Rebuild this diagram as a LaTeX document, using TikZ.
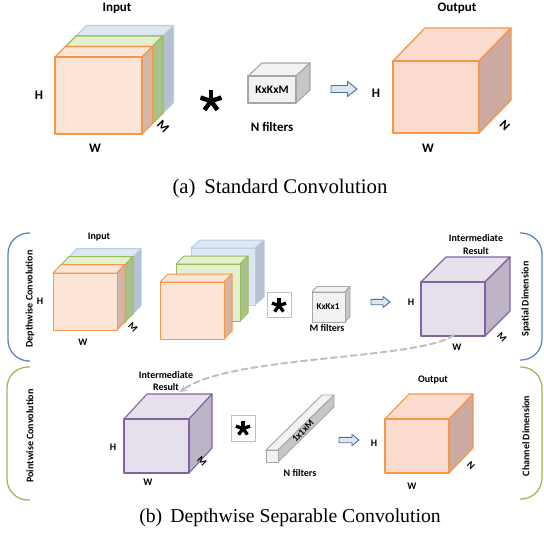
\documentclass[tikz,border=0pt]{standalone}
\usepackage{fontspec}
\setmainfont{Liberation Serif}
\newfontfamily\lab{Carlito}
\usetikzlibrary{arrows.meta}
\definecolor{orB}{HTML}{F79646}
\definecolor{orF}{HTML}{FCE4D6}
\definecolor{orS}{HTML}{D3B6A6}
\definecolor{outF}{HTML}{FDDCD0}
\definecolor{outS}{HTML}{CCAAA1}
\definecolor{grB}{HTML}{9BBB59}
\definecolor{grF}{HTML}{E2F0D0}
\definecolor{grS}{HTML}{A9C18C}
\definecolor{blB}{HTML}{B9CDE5}
\definecolor{blF}{HTML}{DDE6F1}
\definecolor{blS}{HTML}{B4C1D1}
\definecolor{puB}{HTML}{8064A2}
\definecolor{puF}{HTML}{E6E0EC}
\definecolor{puS}{HTML}{BDB4C8}
\definecolor{gyB}{HTML}{A6A6A6}
\definecolor{gyF}{HTML}{F2F2F2}
\definecolor{gyS}{HTML}{C6C6C6}
\definecolor{arF}{HTML}{DCE6F2}
\definecolor{arB}{HTML}{4A6FA5}
\definecolor{brBlue}{HTML}{5C87BF}
\definecolor{brGreen}{HTML}{9BBB59}
\definecolor{dashGray}{HTML}{BFBFBF}
% cube: x0 y0 x1 y1 dx dy border front side
\newcommand\mycube[9]{%
  \filldraw[draw=#7, fill=#8] (#1,#2) -- ({#1+#5},{#2+#6}) -- ({#3+#5},{#2+#6}) -- (#3,#2) -- cycle;
  \filldraw[draw=#7, fill=#9] (#3,#2) -- ({#3+#5},{#2+#6}) -- ({#3+#5},{#4+#6}) -- (#3,#4) -- cycle;
  \filldraw[draw=#7, fill=#8] (#1,#2) rectangle (#3,#4);
}
% block arrow: x0 x1 y shafthalf headhalf headlen
\newcommand\blockarrow[6]{%
  \filldraw[draw=arB, fill=arF, line width=0.9pt, line join=miter]
   (#1,{#3-#4}) -- ({#2-#6},{#3-#4}) -- ({#2-#6},{#3-#5}) -- (#2,#3) --
   ({#2-#6},{#3+#5}) -- ({#2-#6},{#3+#4}) -- (#1,{#3+#4}) -- cycle;
}
% asterisk: x y r width
\newcommand\myast[4]{%
  \foreach \aa in {90,162,234,306,18}{\draw[line width=#4, black] (#1,#2) -- ++({#3*cos(\aa)},{-#3*sin(\aa)});}
}
\begin{document}
\begin{tikzpicture}[x=1pt,y=-1pt, line join=round,
  lbA/.style={font=\lab\bfseries\fontsize{13}{15}\selectfont, inner sep=0pt},
  lbB/.style={font=\lab\bfseries\fontsize{10}{12}\selectfont, inner sep=0pt},
  captext/.style={inner sep=0pt},
  bracket/.style={line width=1.3pt, rounded corners=21pt},
  astbox/.style={draw=dashGray, fill=white, line width=0.8pt}]
\useasboundingbox[fill=white] (0,0) rectangle (544,542);

% ================= (a) =================
\begin{scope}[line width=1.3pt]
\mycube{76}{36}{163}{113}{10.5}{-10.5}{blB}{blF}{blS}
\mycube{65.5}{46.5}{152.5}{123.5}{10.5}{-10.5}{grB}{grF}{grS}
\mycube{55}{57}{142}{134}{10.5}{-10.5}{orB}{orF}{orS}
\end{scope}
\node[lbA] (inA) at (117,8) {Input};
\node[lbA] (hA) at (39,95) {H};
\node[lbA] (wA) at (95,148) {W};
\node[lbA, rotate=-45] (mA) at (163,127) {M};

\myast{211}{101}{11}{4.5pt}

\begin{scope}[line width=1.1pt]
\mycube{248}{76}{296}{103}{14}{-13}{gyB}{gyF}{gyS}
\end{scope}
\node[font=\lab\bfseries\fontsize{11.5}{13}\selectfont, inner sep=0pt] (kA) at (272,90) {KxKxM};
\node[lbA] (nfA) at (272,127) {N filters};

\blockarrow{331}{357}{89}{3.5}{7.5}{9.5}

\begin{scope}[line width=1.3pt]
\mycube{393}{61}{479}{133}{32}{-33}{orB}{outF}{outS}
\end{scope}
\node[lbA] (outA) at (457,8) {Output};
\node[lbA] (hA2) at (376,93) {H};
\node[lbA] (wA2) at (428,148) {W};
\node[lbA, rotate=-45] (nA2) at (505,126) {N};

\node[captext, font=\fontsize{20.8}{24}\selectfont] (capA) at (280,188) {(a)\, Standard Convolution};

% ================= (b) brackets =================
\draw[bracket, brBlue] (30,233) -- (8,233) -- (8,361) -- (30,361);
\draw[bracket, brGreen] (30,367) -- (7,367) -- (7,500) -- (30,500);
\draw[bracket, brBlue] (520,233) -- (542,233) -- (542,360) -- (520,360);
\draw[bracket, brGreen] (520,367) -- (542,367) -- (542,499) -- (520,499);
\node[lbB, rotate=90] (dwc) at (30,299) {Depthwise Convolution};
\node[lbB, rotate=90] (pwc) at (30,436) {Pointwise Convolution};
\node[lbB, rotate=90] (spd) at (526,299) {Spatial Dimension};
\node[lbB, rotate=90] (chd) at (526,436) {Channel Dimension};

% ================= (b) depthwise =================
\begin{scope}[line width=1pt]
\mycube{69}{257}{133}{314}{8}{-8.5}{blB}{blF}{blS}
\mycube{61}{265}{125}{322}{8}{-8.5}{grB}{grF}{grS}
\mycube{53}{273}{117}{330}{8}{-8.5}{orB}{orF}{orS}
\end{scope}
\node[lbB] (inB) at (99,237) {Input};
\node[lbB] (hB) at (40,301) {H};
\node[lbB] (wB) at (83,342) {W};
\node[lbB, rotate=-45] (mB) at (133,327) {M};

\begin{scope}[line width=1pt]
\mycube{191}{248}{255}{305}{9}{-8}{blB}{blF}{blS}
\mycube{176}{264}{240}{321}{8}{-8}{grB}{grF}{grS}
\mycube{160}{282}{224}{339}{8}{-8}{orB}{orF}{orS}
\end{scope}

\draw[astbox] (267,292) rectangle (291,317);
\myast{279}{305.5}{7.5}{3.3pt}

\begin{scope}[line width=0.9pt]
\mycube{312}{292}{345}{322}{5}{-5.5}{gyB}{gyF}{gyS}
\end{scope}
\node[font=\lab\bfseries\fontsize{9}{11}\selectfont, inner sep=0pt] (kB) at (328,307) {KxKx1};
\node[lbB] (mfB) at (327,328) {M filters};

\blockarrow{371}{390}{302}{2.7}{5.5}{7}

\begin{scope}[line width=1.1pt]
\mycube{421}{282}{485}{336}{25}{-25}{puB}{puF}{puS}
\end{scope}
\node[lbB] (imB) at (476,238) {Intermediate};
\node[lbB] (rsB) at (476,251) {Result};
\node[lbB] (hB2) at (411,302) {H};
\node[lbB] (wB2) at (457,347) {W};
\node[lbB, rotate=-45] (mB2) at (502,337) {M};

% ================= (b) pointwise =================
\begin{scope}[line width=1.1pt]
\mycube{124}{419}{189}{473}{23}{-25}{puB}{puF}{puS}
\end{scope}
\node[lbB] (imC) at (166,375) {Intermediate};
\node[lbB] (rsC) at (166,387) {Result};
\node[lbB] (hC) at (113,447) {H};
\node[lbB] (wC) at (148,482) {W};
\node[lbB, rotate=-45] (mC) at (202,461) {M};

\draw[astbox] (231,415) rectangle (255,441);
\myast{243}{428.5}{7.5}{3.3pt}

\begin{scope}[line width=0.9pt]
\filldraw[draw=gyB, fill=gyF] (266,450) -- (322,395) -- (334,395) -- (278,450) -- cycle;
\filldraw[draw=gyB, fill=gyS] (278,450) -- (334,395) -- (334,407) -- (278,462) -- cycle;
\filldraw[draw=gyB, fill=gyF] (266,450) rectangle (278,462);
\end{scope}
\node[font=\lab\bfseries\fontsize{9.5}{11}\selectfont, inner sep=0pt, rotate=45] (bar) at (303,431) {1x1xM};
\node[lbB] (nfC) at (300,473) {N filters};

\blockarrow{339}{359}{440}{2.7}{5.5}{7}

\begin{scope}[line width=1.1pt]
\mycube{385}{419}{449}{473}{24}{-25}{orB}{outF}{outS}
\end{scope}
\node[lbB] (outC) at (433,380) {Output};
\node[lbB] (hC2) at (374,443) {H};
\node[lbB] (wC2) at (412,486) {W};
\node[lbB, rotate=-45] (nC2) at (471,466) {N};

% dashed connector
\coordinate (dstart) at (454,335);
\coordinate (dend) at (180,392);
\draw[dashGray, line width=2pt, dash pattern=on 6pt off 4pt, line cap=round,
  -{Stealth[length=7pt,width=7pt]}] (dstart) .. controls (420,360) and (230,355) .. (dend);

\node[captext, font=\fontsize{19.7}{24}\selectfont] (capB) at (290,518) {(b)\, Depthwise Separable Convolution};
\end{tikzpicture}
\end{document}
